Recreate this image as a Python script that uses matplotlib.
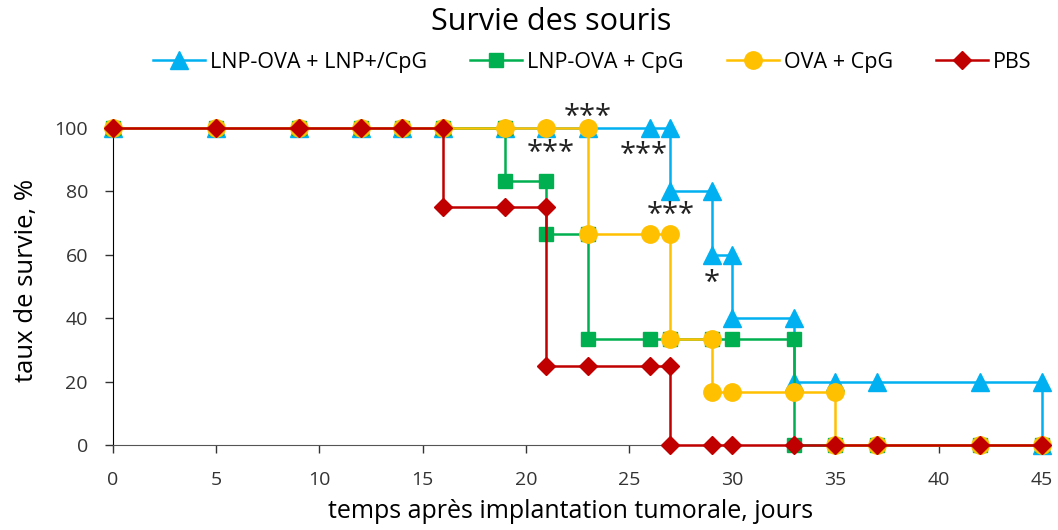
import matplotlib
matplotlib.use("Agg")
import matplotlib.pyplot as plt

# survival curves (Excel-style steps: one point per corner)
days_lnp_cpg = [0, 5, 9, 12, 14, 16, 19, 21, 23, 26, 27, 27, 29, 29, 30, 30, 33, 33, 35, 37, 42, 45, 45]
surv_lnp_cpg = [100, 100, 100, 100, 100, 100, 100, 100, 100, 100, 100, 80, 80, 60, 60, 40, 40, 20, 20, 20, 20, 20, 0]

days_lnpova_cpg = [0, 5, 9, 12, 14, 16, 19, 19, 21, 21, 23, 23, 26, 27, 29, 30, 33, 33, 35, 37, 42, 45]
surv_lnpova_cpg = [100, 100, 100, 100, 100, 100, 100, 83.3, 83.3, 66.7, 66.7, 33.3, 33.3, 33.3, 33.3, 33.3, 33.3, 0, 0, 0, 0, 0]

days_ova_cpg = [0, 5, 9, 12, 14, 16, 19, 21, 23, 23, 26, 27, 27, 29, 29, 30, 33, 35, 35, 37, 42, 45]
surv_ova_cpg = [100, 100, 100, 100, 100, 100, 100, 100, 100, 66.7, 66.7, 66.7, 33.3, 33.3, 16.7, 16.7, 16.7, 16.7, 0, 0, 0, 0]

days_pbs = [0, 5, 9, 12, 14, 16, 16, 19, 21, 21, 23, 26, 27, 27, 29, 30, 33, 35, 37, 42, 45]
surv_pbs = [100, 100, 100, 100, 100, 100, 75, 75, 75, 25, 25, 25, 25, 0, 0, 0, 0, 0, 0, 0, 0]

# significance marks: (day, %, label)
stars = [(23, 103.5, "***"), (21.2, 92, "***"), (25.7, 91.5, "***"), (27, 72.5, "***"), (29, 51, "*")]

plt.rcParams["font.family"] = ["Open Sans", "DejaVu Sans"]

fig = plt.figure(figsize=(10.58, 5.30), dpi=100)
ax = fig.add_axes([0.1068, 0.1604, 0.878, 0.598])

ax.plot(days_lnp_cpg, surv_lnp_cpg, color="#00B0F0", lw=1.8, marker="^", ms=12.5,
        label="LNP-OVA + LNP+/CpG", clip_on=False, zorder=3)
ax.plot(days_lnpova_cpg, surv_lnpova_cpg, color="#00B050", lw=1.8, marker="s", ms=10.5,
        label="LNP-OVA + CpG", clip_on=False, zorder=4)
ax.plot(days_ova_cpg, surv_ova_cpg, color="#FFC000", lw=1.8, marker="o", ms=12.5,
        label="OVA + CpG", clip_on=False, zorder=5)
ax.plot(days_pbs, surv_pbs, color="#C00000", lw=1.8, marker="D", ms=9.5,
        label="PBS", clip_on=False, zorder=6)

for x, y, s in stars:
    ax.text(x, y, s, ha="center", va="center", fontsize=21, color="#222222", zorder=7)

ax.set_xlim(0, 45)
ax.set_ylim(0, 100)
ax.set_xticks(range(0, 46, 5))
ax.set_yticks(range(0, 101, 20))
ax.tick_params(labelsize=14, colors="#333333", length=6, width=1)
ax.tick_params(axis="x", pad=13)
ax.tick_params(axis="y", pad=12)
for s in ["top", "right"]:
    ax.spines[s].set_visible(False)
ax.spines["left"].set_color("#000000")
ax.spines["bottom"].set_color("#555555")
ax.spines["bottom"].set_bounds(0, 45.4)

ax.set_xlabel("temps après implantation tumorale, jours", fontsize=18)
ax.set_ylabel("taux de survie, %", fontsize=18.5)
ax.xaxis.set_label_coords(0.493, -0.17)
ax.yaxis.set_label_coords(-0.08, 0.52)

fig.suptitle("Survie des souris", fontsize=22, x=0.521, y=0.958, va="center")
fig.legend(loc="center", bbox_to_anchor=(0.56, 0.883), ncol=4, frameon=False,
           fontsize=15.5, handlelength=2.4, columnspacing=2.0, handletextpad=0.25)

fig.savefig("out.png", dpi=100)
